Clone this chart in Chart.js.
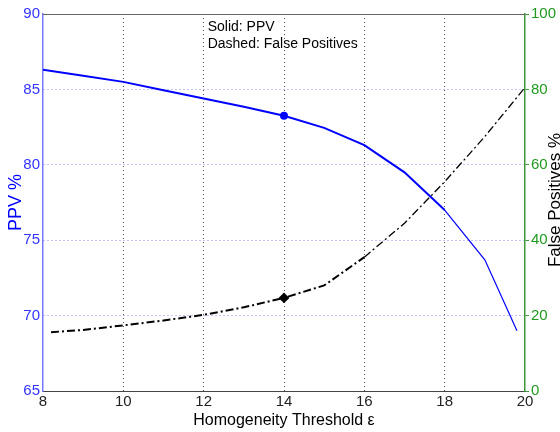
<!DOCTYPE html>
<html>
<head>
<meta charset="utf-8">
<script src="https://cdn.jsdelivr.net/npm/chart.js@4.4.0/dist/chart.umd.min.js"></script>
<style>
  html, body { margin: 0; padding: 0; background: #fff; }
  #wrap { width: 560px; height: 432px; }
</style>
</head>
<body>
<div id="wrap"><canvas id="chart" width="560" height="432"></canvas></div>
<script>
// PPV (solid blue, left axis)
var ppvX = [8, 9, 10, 11, 12, 13, 14, 15, 16, 17, 18, 19, 19.8];
var ppvY = [86.3, 85.9, 85.5, 84.95, 84.4, 83.85, 83.25, 82.45, 81.3, 79.5, 77.0, 73.7, 69.0];

// false positives (dash-dot black, right axis)
var fpX = [8.2, 9, 10, 11, 12, 13, 14, 15, 16, 17, 18, 19, 20];
var fpY = [15.6, 16.2, 17.4, 18.7, 20.2, 22.2, 24.7, 28.0, 35.5, 44.5, 55.5, 67.5, 80.5];

var xTicks = [8, 10, 12, 14, 16, 18, 20];
var leftTicks = [65, 70, 75, 80, 85, 90];
var rightTicks = [0, 20, 40, 60, 80, 100];
var markAt = 14;

var legendLines = ['Solid: PPV', 'Dashed: False Positives'];

function toPoints(xs, ys) {
    return xs.map(function (x, i) { return { x: x, y: ys[i] }; });
}

var extras = {
    id: 'extras',
    afterDraw: function (chart) {
        var ctx = chart.ctx;
        var a = chart.chartArea;
        ctx.save();
        // top box line
        ctx.strokeStyle = '#666';
        ctx.lineWidth = 1;
        ctx.beginPath();
        ctx.moveTo(a.left, a.top + 0.5);
        ctx.lineTo(a.right, a.top + 0.5);
        ctx.stroke();
        // text note
        ctx.fillStyle = '#000';
        ctx.font = '14px "Liberation Sans", Arial, sans-serif';
        ctx.textBaseline = 'middle';
        var nx = chart.scales.x.getPixelForValue(12.1);
        ctx.fillText(legendLines[0], nx, a.top + 13);
        ctx.fillText(legendLines[1], nx, a.top + 30);
        // right axis title, reading bottom to top
        ctx.translate(555, 200);
        ctx.rotate(-Math.PI / 2);
        ctx.textAlign = 'center';
        ctx.font = '17px "Liberation Sans", Arial, sans-serif';
        ctx.fillText('False Positives %', 0, 0);
        ctx.restore();
    }
};

var ctx = document.getElementById('chart').getContext('2d');
var chart = new Chart(ctx, {
    type: 'line',
    data: {
        datasets: [{
            label: 'PPV',
            data: toPoints(ppvX, ppvY),
            yAxisID: 'y',
            borderColor: '#0000ff',
            backgroundColor: '#0000ff',
            borderWidth: 2,
            segment: {
                borderWidth: function (c) { return c.p0.parsed.x >= 17.6 ? 1.2 : 2; }
            },
            pointRadius: function (c) { return c.raw && c.raw.x === markAt ? 3 : 0; },
            pointStyle: 'circle',
            tension: 0
        }, {
            label: 'False Positives',
            data: toPoints(fpX, fpY),
            yAxisID: 'y1',
            borderColor: '#000',
            backgroundColor: '#000',
            borderWidth: 2,
            borderDash: [8, 3, 2, 3],
            segment: {
                borderWidth: function (c) { return c.p0.parsed.x >= 16 ? 1.3 : 2; }
            },
            pointRadius: function (c) { return c.raw && c.raw.x === markAt ? 4 : 0; },
            pointStyle: 'rectRot',
            tension: 0
        }]
    },
    options: {
        responsive: false,
        animation: false,
        layout: { padding: { top: 14, left: 0, right: 0, bottom: 0 } },
        plugins: {
            legend: { display: false },
            tooltip: { enabled: false }
        },
        scales: {
            x: {
                type: 'linear',
                min: 8,
                max: 20,
                afterBuildTicks: function (s) { s.ticks = xTicks.map(function (v) { return { value: v }; }); },
                afterFit: function (s) { s.height = 41; },
                ticks: { color: '#222', font: { size: 15, family: '"Liberation Sans", Arial' }, padding: 2, maxRotation: 0 },
                grid: {
                    color: function (c) { return (c.tick && (c.tick.value === 8 || c.tick.value === 20)) ? 'rgba(0,0,0,0)' : '#555'; },
                    lineWidth: 1,
                    drawTicks: false
                },
                border: { color: '#444', width: 1, dash: [1, 3] },
                title: {
                    display: true,
                    text: 'Homogeneity Threshold ε',
                    color: '#000',
                    font: { size: 16, family: '"Liberation Sans", Arial' },
                    padding: { top: 0, bottom: 2 }
                }
            },
            y: {
                position: 'left',
                min: 65,
                max: 90,
                afterBuildTicks: function (s) { s.ticks = leftTicks.map(function (v) { return { value: v }; }); },
                afterFit: function (s) { s.width = 43; },
                ticks: { color: '#3333ff', font: { size: 15, family: '"Liberation Sans", Arial' }, padding: 3 },
                grid: {
                    color: function (c) { return (c.tick && (c.tick.value === 65 || c.tick.value === 90)) ? 'rgba(0,0,0,0)' : '#8888ff'; },
                    lineWidth: 1,
                    drawTicks: false
                },
                border: { color: '#7777ff', width: 1.5, dash: [1, 3] },
                title: {
                    display: true,
                    text: 'PPV %',
                    color: '#0000ff',
                    font: { size: 18, family: '"Liberation Sans", Arial' },
                    padding: { top: 5, bottom: 0 }
                }
            },
            y1: {
                position: 'right',
                min: 0,
                max: 100,
                afterBuildTicks: function (s) { s.ticks = rightTicks.map(function (v) { return { value: v }; }); },
                afterFit: function (s) { s.width = 35; },
                ticks: { color: '#1f9a1f', font: { size: 15, family: '"Liberation Sans", Arial' }, padding: 2 },
                grid: { drawOnChartArea: false, drawTicks: true, tickLength: 4, color: '#3a9a3a' },
                border: { color: '#3a9a3a', width: 1.5 }
            }
        }
    },
    plugins: [extras]
});
</script>
</body>
</html>
